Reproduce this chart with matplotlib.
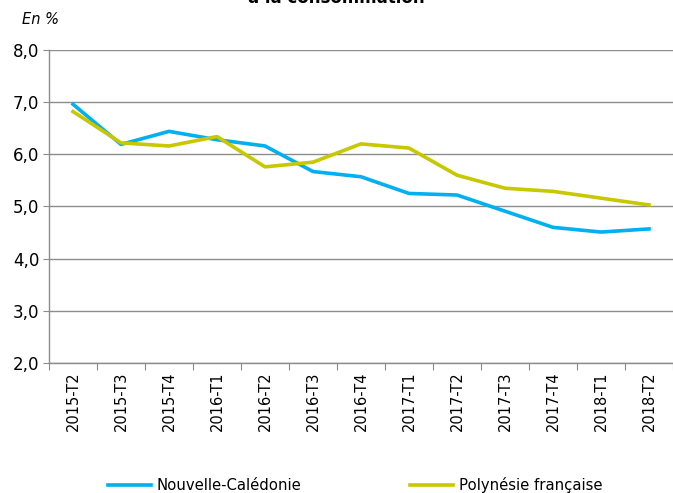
import matplotlib as mpl
mpl.use('Agg')
import matplotlib.pyplot as plt
from matplotlib.lines import Line2D

quarters = ['2015-T2', '2015-T3', '2015-T4', '2016-T1', '2016-T2', '2016-T3', '2016-T4',
            '2017-T1', '2017-T2', '2017-T3', '2017-T4', '2018-T1', '2018-T2']
nouvelle_caledonie = [6.96, 6.19, 6.44, 6.28, 6.16, 5.67, 5.57, 5.25, 5.22, 4.91, 4.60, 4.51, 4.57]
polynesie = [6.82, 6.22, 6.16, 6.34, 5.76, 5.85, 6.20, 6.12, 5.60, 5.35, 5.29, 5.16, 5.03]
yticks = [2, 3, 4, 5, 6, 7, 8]

blue = '#00B0F0'
olive = '#C8C800'

plt.rcParams['font.family'] = 'DejaVu Sans'

fig = plt.figure(figsize=(6.73, 4.93), dpi=100)
ax = fig.add_axes([0.0728, 0.2637, 0.9272, 0.6349])

x = list(range(len(quarters)))
ax.plot(x, nouvelle_caledonie, color=blue, lw=2.6, solid_joinstyle='round')
ax.plot(x, polynesie, color=olive, lw=2.6, solid_joinstyle='round')

ax.set_xlim(-0.5, len(quarters) - 0.5)
ax.set_ylim(2, 8)
ax.set_yticks(yticks)
ax.set_yticklabels(['%d,0' % v for v in yticks], fontsize=12)
ax.yaxis.grid(True, color='#8c8c8c', lw=1.0)
ax.set_axisbelow(True)

# category boundaries get the ticks, labels sit between them
ax.set_xticks([i + 0.5 for i in range(-1, len(quarters))], minor=False)
ax.set_xticklabels([])
ax.set_xticks(x, minor=True)
ax.set_xticklabels(quarters, minor=True, rotation=90, fontsize=10.5)
ax.tick_params(axis='x', which='minor', length=0, pad=6)
ax.tick_params(axis='x', which='major', length=5, color='#8c8c8c', direction='out')
ax.tick_params(axis='y', length=4, color='#8c8c8c', direction='out', pad=3)

for s in ['top', 'right']:
    ax.spines[s].set_visible(False)
for s in ['left', 'bottom']:
    ax.spines[s].set_color('#8c8c8c')
    ax.spines[s].set_linewidth(1.0)

fig.text(0.5, 1.005, 'à la consommation', ha='center', va='center',
         fontsize=12, fontweight='bold')
fig.text(0.032, 0.96, 'En %', ha='left', va='center', fontsize=10.5, style='italic')

handles = [Line2D([], [], color=blue, lw=2.6), Line2D([], [], color=olive, lw=2.6)]
fig.legend(handles, ['Nouvelle-Calédonie', 'Polynésie française'], loc='center',
           bbox_to_anchor=(0.528, 0.016), ncol=2, frameon=False, fontsize=10.7,
           handlelength=2.9, handletextpad=0.4, columnspacing=7.3)

fig.savefig('out.png', dpi=100)
